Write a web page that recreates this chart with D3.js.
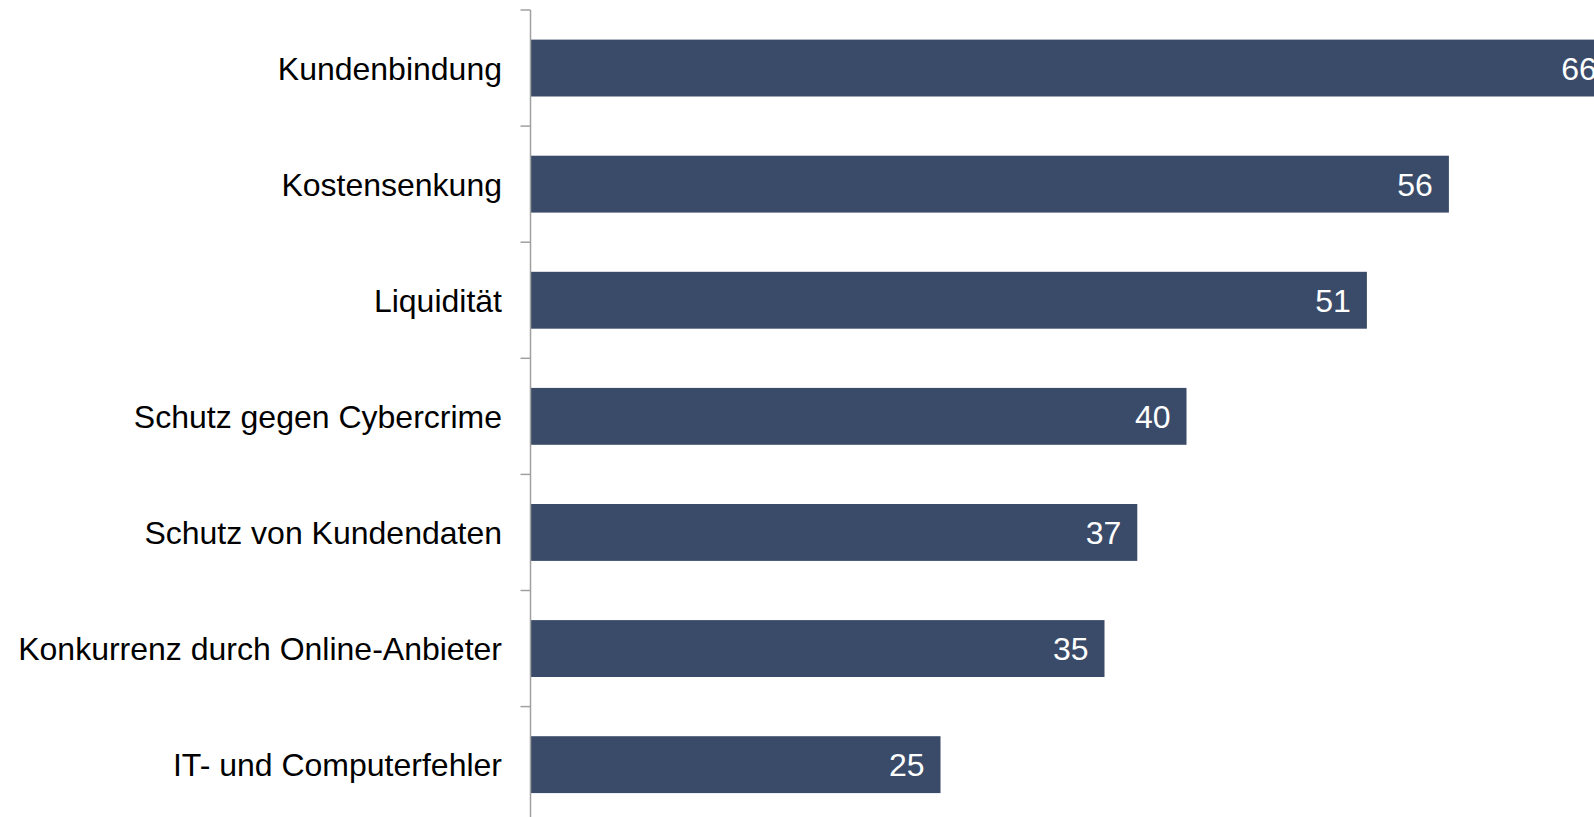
<!DOCTYPE html>
<html>
<head>
<meta charset="utf-8">
<script src="https://cdn.jsdelivr.net/npm/d3@7"></script>
<style>
  html, body { margin: 0; padding: 0; background: #fff; overflow: hidden; }
  svg { display: block; }
  text { font-family: "Liberation Sans", Arial, sans-serif; }
</style>
</head>
<body>
<svg id="chart" width="1594" height="817"></svg>
<script>
// Challenges named by respondents (share in %)
const categories = [
  "Kundenbindung",
  "Kostensenkung",
  "Liquidität",
  "Schutz gegen Cybercrime",
  "Schutz von Kundendaten",
  "Konkurrenz durch Online-Anbieter",
  "IT- und Computerfehler"
];
const values = [66, 56, 51, 40, 37, 35, 25];

const width = 1594, height = 817;
const axisX = 530.5;
const svg = d3.select("#chart");

const x = d3.scaleLinear()
  .domain([0, 66])
  .range([axisX, axisX + 66 * 16.4]);

const y = d3.scaleBand()
  .domain(categories)
  .range([10, 10 + 116.1 * categories.length])
  .paddingInner(0.51)
  .paddingOuter(0.255);

// bars
svg.append("g")
  .selectAll("rect")
  .data(values)
  .join("rect")
  .attr("x", x(0))
  .attr("y", (d, i) => y(categories[i]))
  .attr("width", d => x(d) - x(0))
  .attr("height", y.bandwidth())
  .attr("fill", "#3A4B69");

// value labels inside the bar end
svg.append("g")
  .selectAll("text")
  .data(values)
  .join("text")
  .attr("x", d => x(d) - 16)
  .attr("y", (d, i) => y(categories[i]) + y.bandwidth() / 2)
  .attr("dy", "0.36em")
  .attr("text-anchor", "end")
  .attr("fill", "#fff")
  .attr("font-size", 32)
  .text(d => d);

// category axis with ticks between bands
const axisG = svg.append("g");
axisG.append("line")
  .attr("x1", axisX).attr("x2", axisX)
  .attr("y1", 10).attr("y2", height + 10)
  .attr("stroke", "#A0A0A0").attr("stroke-width", 1.5);

const bounds = d3.range(categories.length + 1).map(i => y.range()[0] + i * y.step());
axisG.selectAll("line.tick")
  .data(bounds)
  .join("line")
  .attr("class", "tick")
  .attr("x1", axisX - 10).attr("x2", axisX)
  .attr("y1", d => d).attr("y2", d => d)
  .attr("stroke", "#A0A0A0").attr("stroke-width", 1.5);

axisG.selectAll("text")
  .data(categories)
  .join("text")
  .attr("x", 502)
  .attr("y", d => y(d) + y.bandwidth() / 2)
  .attr("dy", "0.36em")
  .attr("text-anchor", "end")
  .attr("fill", "#000")
  .attr("font-size", 32)
  .text(d => d);
</script>
</body>
</html>
